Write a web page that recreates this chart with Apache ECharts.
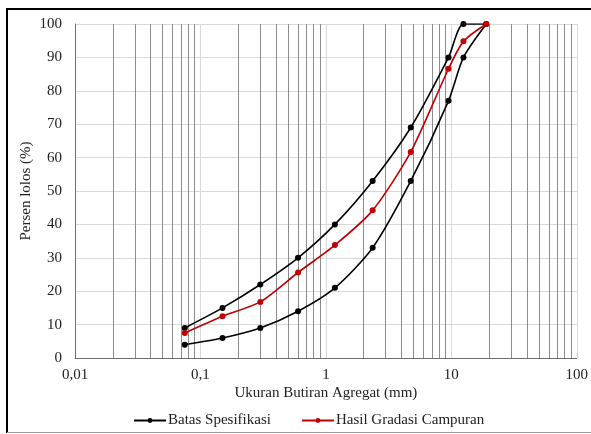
<!DOCTYPE html>
<html>
<head>
<meta charset="utf-8">
<script src="https://cdn.jsdelivr.net/npm/echarts@6/dist/echarts.min.js"></script>
<style>
  html, body { margin: 0; padding: 0; background: #fff; }
  #chart { width: 591px; height: 434px; }
</style>
</head>
<body>
<div id="chart"></div>
<script>
// Sieve sizes (mm)
const sieveSizes = [19, 12.5, 9.5, 4.75, 2.36, 1.18, 0.6, 0.3, 0.15, 0.075];

// Specification envelope, percent passing
const specUpper = [100, 100, 90, 69, 53, 40, 30, 22, 15, 9];
const specLower = [100, 90, 77, 53, 33, 21, 14, 9, 6, 4];

// Combined gradation result, percent passing
const blendPassing = [100, 94.8, 86.6, 61.7, 44.2, 33.8, 25.6, 16.8, 12.5, 7.5];

// Axis labels
const xTickLabels = { 0.01: '0,01', 0.1: '0,1', 1: '1', 10: '10', 100: '100' };
const seriesNames = ['Batas Spesifikasi', 'Hasil Gradasi Campuran'];

// The envelope is drawn as one path: upper limit from fine to coarse, then lower limit back
const envelope = [];
for (let i = sieveSizes.length - 1; i >= 1; i--) envelope.push([sieveSizes[i], specUpper[i]]);
for (let i = 0; i < sieveSizes.length; i++) envelope.push([sieveSizes[i], specLower[i]]);

const blend = sieveSizes.map((s, i) => [s, blendPassing[i]]);

// Intermediate log gridlines (2..9 in each decade)
const minorGrid = [];
for (let e = -2; e <= 1; e++) {
  for (let m = 2; m <= 9; m++) minorGrid.push({ xAxis: m * Math.pow(10, e) });
}

const font = 'Liberation Serif, Times New Roman, serif';

const chart = echarts.init(document.getElementById('chart'), null, { renderer: 'canvas' });
chart.setOption({
  animation: false,
  backgroundColor: '#fff',
  textStyle: { fontFamily: font, color: '#222' },
  grid: { left: 75, right: 14, top: 24, bottom: 76, containLabel: false },
  xAxis: {
    type: 'log',
    logBase: 10,
    min: 0.01,
    max: 100,
    name: 'Ukuran Butiran Agregat (mm)',
    nameLocation: 'middle',
    nameGap: 28,
    nameMoveOverlap: false,
    nameTextStyle: { fontFamily: font, fontSize: 15, color: '#222' },
    axisLine: { show: true, lineStyle: { color: '#6e6e6e', width: 1 } },
    axisTick: { show: false },
    axisLabel: {
      fontFamily: font, fontSize: 15, color: '#222', margin: 10,
      formatter: v => xTickLabels[v] !== undefined ? xTickLabels[v] : String(v).replace('.', ',')
    },
    splitLine: { show: true, lineStyle: { color: '#d9d9d9', width: 1 } }
  },
  yAxis: {
    type: 'value',
    min: 0,
    max: 100,
    interval: 10,
    name: 'Persen lolos (%)',
    nameLocation: 'middle',
    nameGap: 41,
    nameMoveOverlap: false,
    nameRotate: 90,
    nameTextStyle: { fontFamily: font, fontSize: 15, color: '#222' },
    axisLine: { show: true, lineStyle: { color: '#6e6e6e', width: 1 } },
    axisTick: { show: false },
    axisLabel: { fontFamily: font, fontSize: 15, color: '#222', margin: 13 },
    splitLine: { show: true, lineStyle: { color: '#d9d9d9', width: 1 } }
  },
  legend: {
    bottom: 1,
    left: 128,
    itemWidth: 32,
    itemHeight: 6,
    itemGap: 30,
    textStyle: { fontFamily: font, fontSize: 15, color: '#222', padding: [0, 0, 0, -3] },
    data: seriesNames
  },
  series: [
    {
      name: seriesNames[0],
      type: 'line',
      data: envelope,
      symbol: 'circle',
      symbolSize: 6,
      smooth: 0.25,
      z: 3,
      lineStyle: { color: '#000', width: 1.6 },
      itemStyle: { color: '#000' },
      markLine: {
        silent: true,
        symbol: ['none', 'none'],
        label: { show: false },
        lineStyle: { color: '#8c8c8c', width: 1, type: 'solid' },
        z: 1,
        animation: false,
        data: minorGrid
      }
    },
    {
      name: seriesNames[1],
      type: 'line',
      data: blend,
      symbol: 'circle',
      symbolSize: 6,
      smooth: 0.25,
      z: 4,
      lineStyle: { color: '#c00000', width: 1.6 },
      itemStyle: { color: '#c00000' }
    }
  ],
  graphic: [
    { type: 'line', shape: { x1: 7, y1: 9, x2: 7, y2: 433 }, style: { stroke: '#000', lineWidth: 2 }, silent: true },
    { type: 'line', shape: { x1: 6, y1: 9, x2: 591, y2: 9 }, style: { stroke: '#000', lineWidth: 2 }, silent: true },
    { type: 'line', shape: { x1: 7, y1: 432.5, x2: 591, y2: 432.5 }, style: { stroke: '#a0a0a0', lineWidth: 1 }, silent: true }
  ]
});
</script>
</body>
</html>
